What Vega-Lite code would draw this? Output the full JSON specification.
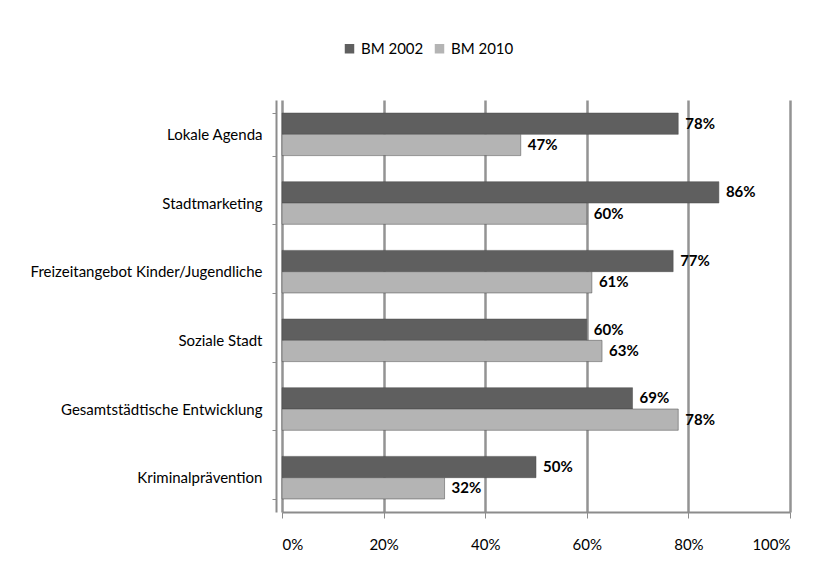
{
  "$schema": "https://vega.github.io/schema/vega-lite/v6.json",
  "width": 508,
  "height": 412,
  "autosize": "none",
  "padding": {"left": 282, "top": 100, "right": 35, "bottom": 73},
  "background": "white",
  "config": {
    "view": {"stroke": null},
    "font": "Lato",
    "axis": {"labelFont": "Lato", "labelColor": "#000000"},
    "legend": {"labelFont": "Lato"}
  },
  "data": {
    "values": [
      {"cat": "Lokale Agenda", "series": "BM 2002", "value": 0.78},
      {"cat": "Lokale Agenda", "series": "BM 2010", "value": 0.47},
      {"cat": "Stadtmarketing", "series": "BM 2002", "value": 0.86},
      {"cat": "Stadtmarketing", "series": "BM 2010", "value": 0.60},
      {"cat": "Freizeitangebot Kinder/Jugendliche", "series": "BM 2002", "value": 0.77},
      {"cat": "Freizeitangebot Kinder/Jugendliche", "series": "BM 2010", "value": 0.61},
      {"cat": "Soziale Stadt", "series": "BM 2002", "value": 0.60},
      {"cat": "Soziale Stadt", "series": "BM 2010", "value": 0.63},
      {"cat": "Gesamtstädtische  Entwicklung", "series": "BM 2002", "value": 0.69},
      {"cat": "Gesamtstädtische  Entwicklung", "series": "BM 2010", "value": 0.78},
      {"cat": "Kriminalprävention", "series": "BM 2002", "value": 0.50},
      {"cat": "Kriminalprävention", "series": "BM 2010", "value": 0.32}
    ]
  },
  "encoding": {
    "y": {
      "field": "cat",
      "type": "nominal",
      "sort": null,
      "scale": {"paddingInner": 0.38, "paddingOuter": 0.19},
      "axis": {
        "title": null,
        "offset": 6,
        "domainColor": "#8c8c8c",
        "domainWidth": 2,
        "tickBand": "extent",
        "tickColor": "#8c8c8c",
        "tickSize": 4,
        "labelPadding": 10,
        "labelFontSize": 15,
        "labelLimit": 300,
        "grid": false
      }
    },
    "yOffset": {"field": "series", "type": "nominal", "scale": {"paddingInner": 0}},
    "x": {
      "field": "value",
      "type": "quantitative",
      "scale": {"domain": [0, 1], "nice": false},
      "axis": {
        "title": null,
        "values": [0, 0.2, 0.4, 0.6, 0.8, 1],
        "format": ".0%",
        "labelFontSize": 15,
        "labelPadding": 19,
        "tickSize": 6,
        "tickColor": "#8c8c8c",
        "domainColor": "#8c8c8c",
        "domainWidth": 2,
        "grid": true,
        "gridColor": "#939393",
        "gridWidth": 2.5
      }
    }
  },
  "layer": [
    {
      "mark": {"type": "bar", "stroke": "#4a4a4a", "strokeWidth": 0.5},
      "encoding": {
        "color": {
          "field": "series",
          "type": "nominal",
          "scale": {"domain": ["BM 2002", "BM 2010"], "range": ["#5f5f5f", "#b4b4b4"]},
          "legend": {
            "title": null,
            "orient": "none",
            "direction": "horizontal",
            "legendX": 60,
            "legendY": -59,
            "symbolType": "square",
            "symbolSize": 90,
            "symbolStrokeWidth": 0,
            "labelFontSize": 15,
            "labelColor": "#000000",
            "columnPadding": 8,
            "labelOffset": 4
          }
        }
      }
    },
    {
      "mark": {"type": "text", "align": "left", "dx": 7, "fontWeight": "bold", "fontSize": 15, "color": "#000000"},
      "encoding": {
        "text": {"field": "value", "type": "quantitative", "format": ".0%"},
        "detail": {"field": "series"}
      }
    }
  ]
}
